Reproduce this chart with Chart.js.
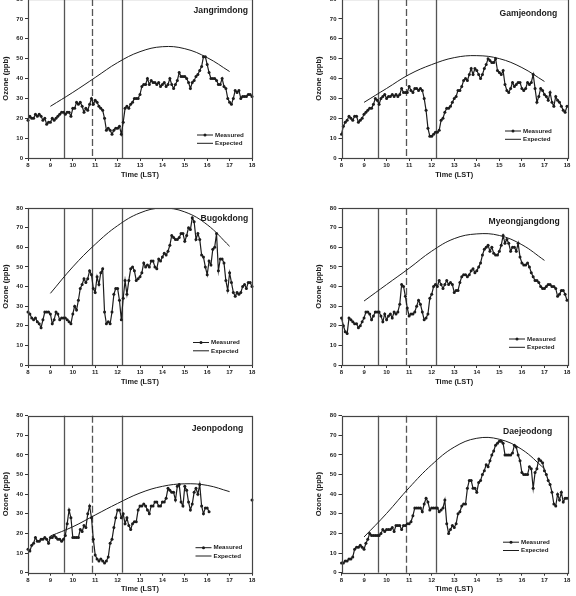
<!DOCTYPE html>
<html>
<head>
<meta charset="utf-8">
<script src="https://cdn.jsdelivr.net/npm/chart.js@4.4.1/dist/chart.umd.min.js"></script>
<style>
  body { margin: 0; background: #fff; width: 576px; height: 596px; overflow: hidden; position: relative; }
  canvas { position: absolute; }
</style>
</head>
<body>
<script>
// time axis: 5-minute samples from 8:00 to 18:00 (LST)
const times = Array.from({ length: 121 }, (_, i) => 8 + i / 12);
const hours = [9, 10, 11, 12, 13, 14, 15, 16, 17];
const eventTimes = [9.6, 10.87, 12.2];
const xTicks = [8, 18];
const yTicks = [0, 80];

const jangrimMeasured = [
  19,21,20,20,22,21,22,21,19,20,17,18,
  18,20,19,20,21,22,23,23,22,23,23,21,
  25,25,28,27,28,26,23,25,24,27,30,27,
  29,28,26,25,24,20,14,15,14,12,14,15,
  15,16,12,18,25,26,25,27,28,30,30,30,
  32,36,37,37,40,37,39,38,38,37,38,36,
  37,38,36,37,40,37,35,37,39,43,41,41,
  41,40,38,35,38,39,41,42,44,46,51,51,
  47,43,40,40,40,39,37,37,40,36,35,30,
  28,27,30,34,33,34,30,31,31,31,32,32,
  31];
const jangrimExpected = [26, 33, 40.5, 48, 53.5, 56, 55, 50.5, 43.5];

const gamjeonMeasured = [
  12,16,18,19,21,20,19,21,21,18,19,20,
  22,23,24,25,25,27,30,29,27,30,31,32,
  30,31,31,32,31,32,31,32,35,33,33,33,
  36,34,33,35,35,34,35,34,30,24,15,11,
  11,12,13,13,14,19,20,23,25,25,26,28,
  30,31,34,34,36,39,40,39,42,45,42,45,
  44,42,40,42,45,47,50,49,48,48,50,44,
  43,42,44,37,34,33,35,38,36,37,38,38,
  35,34,35,38,37,38,42,35,28,31,35,34,
  32,31,29,33,28,26,31,29,28,26,24,23,
  26];
const gamjeonExpected = [28, 35, 42, 47, 50.5, 51.5, 50, 45.5, 38.5];

const bugokMeasured = [
  27,26,24,23,24,22,21,19,23,27,27,27,
  26,21,23,27,26,23,24,24,24,23,22,21,
  26,30,28,33,39,41,44,42,44,48,46,39,
  37,45,41,47,49,27,21,22,21,27,36,39,
  39,33,23,34,43,36,43,49,50,48,43,44,
  45,47,52,50,51,50,53,53,50,49,54,53,
  55,57,56,58,61,66,65,64,64,65,67,67,
  63,66,70,69,75,73,64,67,64,56,55,50,
  46,53,51,59,60,67,48,54,54,52,43,38,
  47,42,37,35,37,36,37,40,41,39,42,42,
  40];
const bugokExpected = [36.5, 50, 61.5, 71, 77.5, 80, 78, 71.5, 60.5];

const myeongMeasured = [
  24,20,17,16,24,23,22,21,21,19,20,22,
  24,27,27,26,23,25,27,27,27,25,22,26,
  23,25,26,24,27,26,27,31,41,40,35,29,
  25,26,26,27,30,33,31,27,23,24,26,34,
  36,40,41,40,43,41,39,41,43,41,42,41,
  37,38,38,42,45,46,46,45,46,48,49,47,
  48,50,52,56,59,60,61,58,60,57,56,56,
  58,61,66,62,64,62,58,60,60,58,62,55,
  52,51,51,52,50,47,45,43,43,42,40,39,
  39,40,41,41,40,40,39,35,36,38,38,36,
  33];
const myeongExpected = [32.6, 41, 49.3, 58, 64.4, 66.8, 66, 61.3, 53.3];

const jeonpoMeasured = [
  12,11,14,15,18,16,16,17,17,18,17,15,
  18,18,19,18,17,17,16,17,19,25,32,28,
  18,18,18,18,22,21,24,23,30,34,28,17,
  9,7,6,7,6,5,6,8,15,17,23,28,
  32,32,28,30,25,28,24,22,25,26,26,32,
  34,34,35,34,32,30,34,34,36,36,34,34,
  36,36,38,43,42,41,41,37,44,45,36,34,
  44,42,36,32,35,41,43,40,45,34,30,33,
  33,31,null,null,null,null,null,null,null,null,null,null,
  null,null,null,null,null,null,null,null,null,null,null,null,
  37];
const jeonpoExpected = [18.7, 23.4, 29.4, 35.3, 40.6, 44, 45.3, 44.5, 41.3];

const daejeoMeasured = [
  5,5,6,6,7,7,8,12,13,13,14,13,
  12,15,17,20,19,19,19,19,19,20,22,21,
  22,22,22,23,21,24,24,24,22,24,24,25,
  25,26,29,33,33,33,33,31,35,38,36,32,
  33,33,33,33,31,32,33,37,25,20,22,24,
  23,25,30,31,34,35,35,43,47,47,43,43,
  41,46,47,50,52,55,54,57,60,62,65,66,
  67,67,66,60,60,60,60,61,65,64,60,57,
  51,50,50,50,54,53,43,51,53,58,57,56,
  52,50,47,45,41,35,34,40,37,41,36,38,
  38];
const daejeoExpected = [18.2, 30.2, 43.3, 55, 64, 68.5, 68, 62.8, 53];

// layout of the six panels
const panels = [
  { name: 'Jangrimdong',   measured: jangrimMeasured, expected: jangrimExpected, col: 0, row: 0, dashed: [false, true, false], title: [4, 12], legend: [37, 23] },
  { name: 'Gamjeondong',   measured: gamjeonMeasured, expected: gamjeonExpected, col: 1, row: 0, dashed: [false, true, false], title: [9.7, 15], legend: [44, 27] },
  { name: 'Bugokdong',     measured: bugokMeasured,   expected: bugokExpected,   col: 0, row: 1, dashed: [false, false, false], title: [3.7, 11], legend: [41, 22.5] },
  { name: 'Myeongjangdong',measured: myeongMeasured,  expected: myeongExpected,  col: 1, row: 1, dashed: [false, true, false], title: [7.3, 14], legend: [40, 26] },
  { name: 'Jeonpodong',    measured: jeonpoMeasured,  expected: jeonpoExpected,  col: 0, row: 2, dashed: [false, true, false], title: [8.7, 12.6], legend: [38.5, 25] },
  { name: 'Daejeodong',    measured: daejeoMeasured,  expected: daejeoExpected,  col: 1, row: 2, dashed: [false, true, false], title: [14.7, 16], legend: [46, 30.5] },
];
const cols = [ { left: 0, padL: 1, padR: 36 }, { left: 288, padL: 26.5, padR: 9 } ];
const rows = [
  { top: -10, h: 198, padT: 9, padB: 9 },
  { top: 198, h: 198, padT: 10, padB: 10 },
  { top: 396, h: 200, padT: 19.7, padB: 2.3 },
];

const FONT = '"Liberation Sans", Arial, sans-serif';
const INK = '#1c1c1c';

const panelDeco = {
  id: 'panelDeco',
  beforeDatasetsDraw(chart, args, opts) {
    const { ctx, chartArea: a, scales: { x } } = chart;
    ctx.save();
    ctx.strokeStyle = '#555';
    ctx.lineWidth = 1.3;
    eventTimes.forEach((t, k) => {
      const px = Math.round(x.getPixelForValue(t)) + 0.5;
      ctx.setLineDash(opts.dashed[k] ? [7, 3] : []);
      ctx.beginPath();
      ctx.moveTo(px, a.top);
      ctx.lineTo(px, a.bottom);
      ctx.stroke();
    });
    ctx.restore();
  },
  afterDraw(chart, args, opts) {
    const { ctx, chartArea: a } = chart;
    ctx.save();
    // frame
    ctx.strokeStyle = '#444';
    ctx.lineWidth = 1.2;
    ctx.strokeRect(Math.round(a.left) + 0.5, Math.round(a.top) + 0.5, Math.round(a.right - a.left), Math.round(a.bottom - a.top));

    // station name
    ctx.fillStyle = INK;
    ctx.font = 'bold 8.6px ' + FONT;
    ctx.textAlign = 'right';
    ctx.textBaseline = 'middle';
    ctx.fillText(opts.name, a.right - opts.title[0], a.top + opts.title[1]);

    // legend
    const tx = a.right - opts.legend[0];
    const y1 = a.bottom - opts.legend[1];
    const y2 = y1 + 8.3;
    ctx.font = 'bold 6.2px ' + FONT;
    ctx.textAlign = 'left';
    ctx.strokeStyle = INK;
    ctx.lineWidth = 1;
    ctx.beginPath();
    ctx.moveTo(tx - 18, y1); ctx.lineTo(tx - 2, y1);
    ctx.moveTo(tx - 18, y2); ctx.lineTo(tx - 2, y2);
    ctx.stroke();
    ctx.beginPath();
    ctx.arc(tx - 10, y1, 1.5, 0, Math.PI * 2);
    ctx.fill();
    ctx.fillText('Measured', tx, y1);
    ctx.fillText('Expected', tx, y2);
    ctx.restore();
  }
};

function pts(xs, ys) {
  return ys.map((v, i) => ({ x: xs[i], y: v }));
}

panels.forEach(p => {
  const c = cols[p.col], r = rows[p.row];
  const cv = document.createElement('canvas');
  cv.width = 288; cv.height = r.h;
  cv.style.left = c.left + 'px';
  cv.style.top = r.top + 'px';
  document.body.appendChild(cv);

  const tickFont = { family: FONT, size: 6, weight: 'bold' };
  new Chart(cv, {
    type: 'line',
    data: {
      datasets: [
        { label: 'Measured', data: pts(times, p.measured), borderColor: INK, backgroundColor: INK,
          borderWidth: 1.2, pointRadius: 1.5, pointBorderWidth: 0, tension: 0, spanGaps: false, clip: false },
        { label: 'Expected', data: pts(hours, p.expected), borderColor: INK,
          borderWidth: 1, pointRadius: 0, tension: 0.4 },
      ]
    },
    options: {
      responsive: false,
      animation: false,
      events: [],
      layout: { padding: { left: c.padL, right: c.padR, top: r.padT, bottom: r.padB } },
      plugins: {
        legend: { display: false },
        tooltip: { enabled: false },
        panelDeco: { name: p.name, dashed: p.dashed, title: p.title, legend: p.legend },
      },
      scales: {
        x: {
          type: 'linear', min: xTicks[0], max: xTicks[1],
          afterFit: s => { s.height = 21; },
          border: { display: false },
          grid: { drawOnChartArea: false, tickLength: 3, color: '#333' },
          ticks: { stepSize: 1, padding: 1, maxRotation: 0, autoSkip: false, font: tickFont, color: INK },
          title: { display: true, text: 'Time (LST)', padding: 0, color: INK, font: { family: FONT, size: 7.4, weight: 'bold' } },
        },
        y: {
          min: yTicks[0], max: yTicks[1],
          afterFit: s => { s.width = 27; },
          border: { display: false },
          grid: { drawOnChartArea: false, tickLength: 3, color: '#333' },
          ticks: { stepSize: 10, padding: 2, autoSkip: false, font: tickFont, color: INK },
          title: { display: true, text: 'Ozone (ppb)', padding: 0, color: INK, font: { family: FONT, size: 7.6, weight: 'bold' } },
        }
      }
    },
    plugins: [panelDeco]
  });
});
</script>
</body>
</html>
